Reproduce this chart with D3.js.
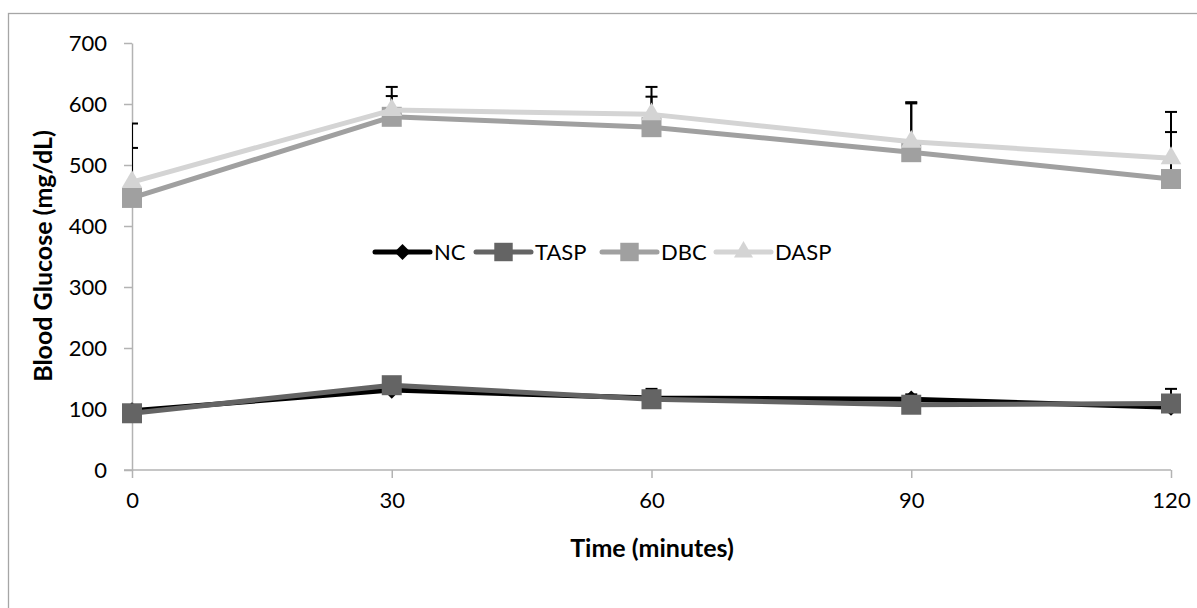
<!DOCTYPE html>
<html><head><meta charset="utf-8">
<script src="https://cdn.jsdelivr.net/npm/d3@7"></script>
<style>
html,body{margin:0;padding:0;background:#fff;overflow:hidden}
text{font-family:Lato,"Liberation Sans",sans-serif;fill:#000}
</style></head>
<body><svg id="c" width="1197" height="608"></svg>
<script>
const times = [0, 30, 60, 90, 120];
const seriesNames = ["NC", "TASP", "DBC", "DASP"];
const ncValues   = [97, 131, 118, 116, 103];
const taspValues = [93, 139, 116, 107, 109];
const dbcValues  = [446, 579, 562, 521, 477];
const daspValues = [472, 590, 583, 538, 511];
const ncErr   = [4, 6, 5, 8, 5];
const taspErr = [8, 10, 17, 10, 24];
const dbcErr  = [82, 34, 50, 80, 77];
const daspErr = [96, 38, 45, 65, 76];
const yTicks = [0, 100, 200, 300, 400, 500, 600, 700];
const xTicks = [0, 30, 60, 90, 120];

const colors = ["#000000", "#646464", "#a0a0a0", "#d4d4d4"];
const symbolsT = [d3.symbolSquare, d3.symbolSquare, d3.symbolSquare, d3.symbolTriangle];
const symSizes = [150, 400, 400, 185];
const symRot = [45, 0, 0, 0];
const series = [ncValues, taspValues, dbcValues, daspValues].map((v, i) => ({
  name: seriesNames[i], values: v, err: [ncErr, taspErr, dbcErr, daspErr][i],
  color: colors[i], symbol: symbolsT[i], size: symSizes[i], rot: symRot[i]
}));

const svg = d3.select("#c");
svg.append("rect").attr("x", 8.5).attr("y", 13.5).attr("width", 1300).attr("height", 700)
  .attr("fill", "#fff").attr("stroke", "#a6a6a6").attr("stroke-width", 1.3);

const x = d3.scaleLinear().domain([0, 120]).range([132, 1171]);
const y = d3.scaleLinear().domain([0, 700]).range([470, 43]);

// axes
const axCol = "#b3b3b3";
const yAx = svg.append("g").attr("transform", `translate(${x(0)},0)`)
  .call(d3.axisLeft(y).tickValues(yTicks).tickSize(8).tickPadding(17).tickSizeOuter(0));
const xAx = svg.append("g").attr("transform", `translate(0,${y(0)})`)
  .call(d3.axisBottom(x).tickValues(xTicks).tickSize(8).tickPadding(14).tickSizeOuter(0));
[yAx, xAx].forEach(g => {
  g.select(".domain").attr("stroke", axCol).attr("stroke-width", 1.5);
  g.selectAll(".tick line").attr("stroke", axCol).attr("stroke-width", 1.5);
  g.selectAll(".tick text").attr("font-size", 22).attr("font-family", "Lato").attr("fill", "#000");
});
xAx.select(".domain").attr("d", `M${x(0) - 8},0H${x(120)}`);

// clip for error bars (plot area)
svg.append("clipPath").attr("id", "pa").append("rect")
  .attr("x", x(0)).attr("y", 0).attr("width", x(120) - x(0) + 20).attr("height", y(0));

const line = d3.line().x((d, i) => x(times[i])).y(d => y(d));
series.forEach(s => {
  const g = svg.append("g");
  const eb = g.append("g").attr("clip-path", "url(#pa)");
  s.values.forEach((v, i) => {
    const cx = x(times[i]), top = y(v + s.err[i]);
    eb.append("line").attr("x1", cx).attr("x2", cx).attr("y1", y(v)).attr("y2", top)
      .attr("stroke", "#000").attr("stroke-width", 2);
    eb.append("line").attr("x1", cx - 6).attr("x2", cx + 6).attr("y1", top).attr("y2", top)
      .attr("stroke", "#000").attr("stroke-width", 2);
  });
  g.append("path").datum(s.values).attr("d", line).attr("fill", "none")
    .attr("stroke", s.color).attr("stroke-width", 5).attr("stroke-linejoin", "round");
  g.selectAll("path.m").data(s.values).join("path").attr("class", "m")
    .attr("transform", (d, i) => `translate(${x(times[i])},${y(d)}) rotate(${s.rot})`)
    .attr("d", d3.symbol(s.symbol, s.size)).attr("fill", s.color);
});

// legend
const legX = [375, 476, 602, 716];
const legY = 252;
series.forEach((s, i) => {
  const g = svg.append("g").attr("transform", `translate(${legX[i]},${legY})`);
  g.append("line").attr("x1", 0).attr("x2", 55).attr("stroke", s.color)
    .attr("stroke-width", 5).attr("stroke-linecap", "round");
  g.append("path").attr("transform", `translate(27.5,0) rotate(${s.rot})`)
    .attr("d", d3.symbol(s.symbol, s.size * 0.85)).attr("fill", s.color);
  g.append("text").attr("x", 59).attr("dy", "0.35em").attr("font-size", 22).text(s.name);
});

// axis titles
svg.append("text").attr("x", 652).attr("y", 557).attr("text-anchor", "middle")
  .attr("font-size", 25).attr("font-weight", "bold").text("Time (minutes)");
svg.append("text").attr("transform", "translate(52,256) rotate(-90)").attr("text-anchor", "middle")
  .attr("font-size", 25).attr("font-weight", "bold").text("Blood Glucose (mg/dL)");
</script></body></html>
